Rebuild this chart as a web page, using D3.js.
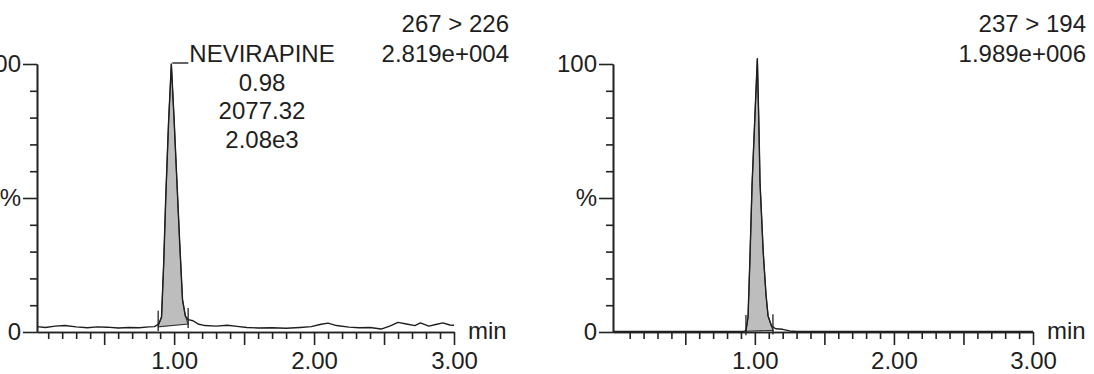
<!DOCTYPE html>
<html>
<head>
<meta charset="utf-8">
<script src="https://cdn.jsdelivr.net/npm/d3@7"></script>
<style>
  html, body { margin: 0; padding: 0; background: #fff; }
  svg { display: block; }
  text { font-family: "Liberation Sans", Arial, sans-serif; fill: #1e1e1e; }
</style>
</head>
<body>
<div id="chart"></div>
<script>
// left chromatogram: retention time (min) and relative intensity (%)
const leftTime = [0.02, 0.08, 0.15, 0.22, 0.30, 0.38, 0.45, 0.52, 0.60, 0.68, 0.75, 0.82, 0.86, 0.89,
    0.91, 0.925, 0.94, 0.96, 0.98, 1.00, 1.02, 1.04, 1.06, 1.08, 1.10, 1.135, 1.17, 1.22, 1.30, 1.38,
    1.45, 1.52, 1.60, 1.70, 1.80, 1.90, 1.98, 2.05, 2.10, 2.16, 2.25, 2.32, 2.40, 2.48, 2.54, 2.60,
    2.66, 2.72, 2.76, 2.82, 2.87, 2.92, 2.97, 3.00];
const leftIntensity = [2.0, 1.7, 2.2, 2.4, 1.9, 1.6, 1.9, 1.8, 1.5, 1.7, 1.6, 1.9, 2.0, 3.0,
    5.6, 25, 50, 78, 100, 79, 56, 33, 12, 6, 4.6, 4.2, 3.0, 2.4, 2.2, 2.5,
    2.1, 1.7, 1.5, 1.6, 1.4, 1.7, 2.0, 2.9, 3.3, 2.4, 1.8, 1.6, 1.7, 1.1, 2.2, 3.6,
    3.0, 2.4, 3.4, 2.2, 2.8, 3.4, 2.6, 2.5];

// right chromatogram
const rightTime = [-0.02, 0.40, 0.80, 0.92, 0.936, 0.951, 0.965, 0.98, 1.00, 1.018, 1.03, 1.037,
    1.06, 1.08, 1.095, 1.12, 1.15, 1.20, 1.25, 1.30, 2.00, 3.00];
const rightIntensity = [0.2, 0.2, 0.2, 0.2, 0.5, 5.6, 28, 55, 80, 102, 75, 56,
    30, 14, 6, 2.2, 1.2, 1.0, 0.4, 0.2, 0.2, 0.2];

// integration baselines: [start time, end time], [start level %, end level %]
const leftIntegTime = [0.886, 1.10];
const leftIntegLevel = [1.9, 3.0];
const rightIntegTime = [0.936, 1.13];
const rightIntegLevel = [0.3, 0.6];

const leftHeader = ["267 > 226", "2.819e+004"];
const rightHeader = ["237 > 194", "1.989e+006"];
const peakLabel = ["NEVIRAPINE", "0.98", "2077.32", "2.08e3"];
const peakApex = [0.98, 100];

const xMinorTicks = [0.1, 0.2, 0.3, 0.4, 0.6, 0.7, 0.8, 0.9, 1.1, 1.2, 1.3, 1.4, 1.6, 1.7, 1.8, 1.9,
    2.1, 2.2, 2.3, 2.4, 2.6, 2.7, 2.8, 2.9];
const xMajorTicks = [0.5, 1.0, 1.5, 2.0, 2.5, 3.0];
const xTickLabels = { 1: "1.00", 2: "2.00", 3: "3.00" };
const yMinorTicks = [10, 20, 30, 40, 60, 70, 80, 90];
const yMajorTicks = [0, 50, 100];
const yTickLabels = { 0: "0", 50: "%", 100: "100" };
const xUnit = "min";

const width = 1094, height = 374;
const svg = d3.select("#chart").append("svg")
    .attr("width", width)
    .attr("height", height);
svg.append("rect").attr("width", width).attr("height", height).attr("fill", "#fff");

const fontSize = 24;

function drawPanel(p) {
    const x = d3.scaleLinear().domain(p.xDomain).range(p.xRange);
    const y = d3.scaleLinear().domain([0, 100]).range([332, 64]);
    const g = svg.append("g");

    const pts = p.time.map((t, i) => [t, p.intensity[i]]);

    // shaded integrated area between trace and baseline
    const inside = pts.filter(d => d[0] > p.integTime[0] && d[0] < p.integTime[1]);
    const area = [[p.integTime[0], p.integLevel[0]], ...inside, [p.integTime[1], p.integLevel[1]]];
    g.append("path")
        .attr("d", d3.line().x(d => x(d[0])).y(d => y(d[1]))(area) + "Z")
        .attr("fill", "#bdbdbd")
        .attr("stroke", "#333")
        .attr("stroke-width", 1.1);

    // integration markers
    p.integTime.forEach((t, i) => {
        g.append("line")
            .attr("x1", x(t)).attr("x2", x(t))
            .attr("y1", y(p.integLevel[i] - 1.5))
            .attr("y2", y(p.integLevel[i] + 6))
            .attr("stroke", "#222")
            .attr("stroke-width", 1.3);
    });

    // trace
    g.append("path")
        .attr("d", d3.line().x(d => x(d[0])).y(d => y(d[1]))(pts))
        .attr("fill", "none")
        .attr("stroke", "#1e1e1e")
        .attr("stroke-width", 1.4)
        .attr("stroke-linejoin", "round");

    // x axis: minor + major ticks
    g.append("g")
        .attr("transform", `translate(0,${y(0)})`)
        .call(d3.axisBottom(x).tickValues(xMinorTicks).tickSize(7).tickSizeOuter(0).tickFormat(""));
    g.append("g")
        .attr("transform", `translate(0,${y(0)})`)
        .call(d3.axisBottom(x).tickValues(xMajorTicks).tickSize(13).tickSizeOuter(0).tickPadding(7)
            .tickFormat(d => xTickLabels[d] || ""));

    // y axis
    g.append("g")
        .attr("transform", `translate(${x(p.xDomain[0])},0)`)
        .call(d3.axisLeft(y).tickValues(yMinorTicks).tickSize(7).tickSizeOuter(0).tickFormat(""));
    g.append("g")
        .attr("transform", `translate(${x(p.xDomain[0])},0)`)
        .call(d3.axisLeft(y).tickValues(yMajorTicks).tickSize(14).tickSizeOuter(0).tickPadding(2)
            .tickFormat(d => yTickLabels[d]));

    g.selectAll(".domain, .tick line")
        .attr("stroke", "#222")
        .attr("stroke-width", 1.6);
    g.selectAll(".tick text")
        .attr("font-size", fontSize)
        .attr("font-family", "'Liberation Sans', Arial, sans-serif")
        .attr("fill", "#1e1e1e");

    g.append("text")
        .attr("x", p.xRange[1] + 14)
        .attr("y", 339)
        .attr("font-size", fontSize)
        .text(xUnit);

    // channel header
    p.header.forEach((s, i) => {
        g.append("text")
            .attr("x", p.headerX)
            .attr("y", 32 + i * 30)
            .attr("text-anchor", "end")
            .attr("font-size", fontSize)
            .text(s);
    });

    return { x, y, g };
}

const left = drawPanel({
    xDomain: [0.02, 3], xRange: [37, 454],
    time: leftTime, intensity: leftIntensity,
    integTime: leftIntegTime, integLevel: leftIntegLevel,
    header: leftHeader, headerX: 509
});

drawPanel({
    xDomain: [-0.02, 3], xRange: [613, 1033],
    time: rightTime, intensity: rightIntensity,
    integTime: rightIntegTime, integLevel: rightIntegLevel,
    header: rightHeader, headerX: 1086
});

// peak annotation
const ax = left.x(peakApex[0]), ay = left.y(peakApex[1]);
left.g.append("line")
    .attr("x1", ax + 1).attr("x2", ax + 17)
    .attr("y1", ay - 1).attr("y2", ay - 1)
    .attr("stroke", "#222")
    .attr("stroke-width", 1.4);

peakLabel.forEach((s, i) => {
    left.g.append("text")
        .attr("x", 262)
        .attr("y", 62 + i * 28.5)
        .attr("text-anchor", "middle")
        .attr("font-size", fontSize)
        .text(s);
});
</script>
</body>
</html>
